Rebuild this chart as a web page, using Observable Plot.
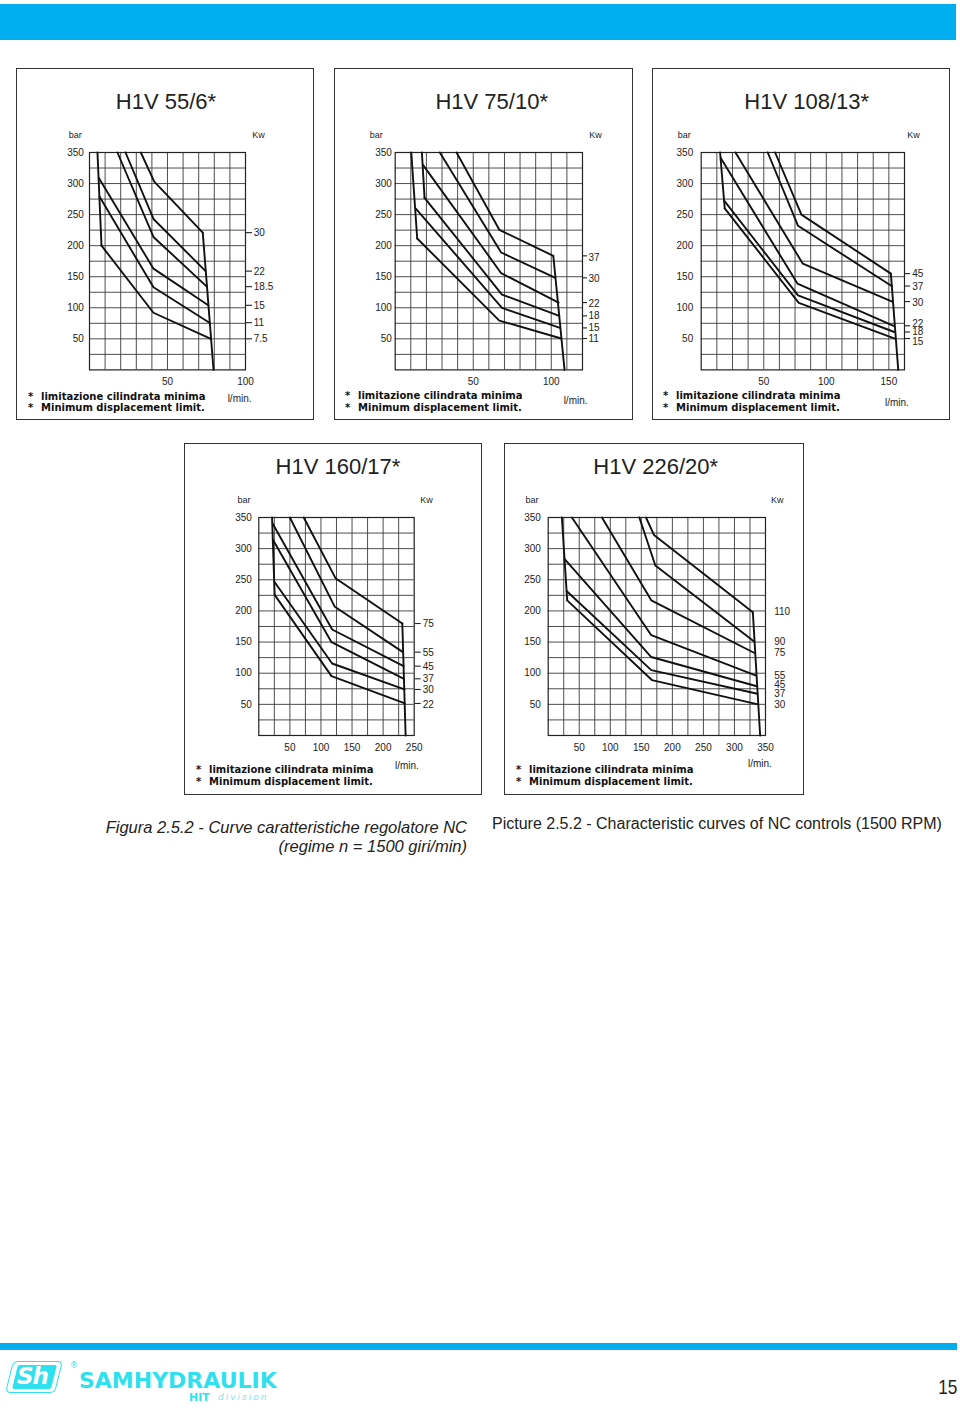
<!DOCTYPE html>
<html lang="it">
<head>
<meta charset="utf-8">
<title>H1V – Curve caratteristiche regolatore NC</title>
<script src="https://cdn.jsdelivr.net/npm/d3@7"></script>
<script src="https://cdn.jsdelivr.net/npm/@observablehq/plot@0.6"></script>
<style>
  html,body{margin:0;padding:0;background:#fff;}
  #page{position:relative;width:960px;height:1408px;overflow:hidden;background:#fff;font-family:"Liberation Sans",Arial,Helvetica,sans-serif;color:#222;}
  .abs{position:absolute;white-space:nowrap;}
  .box{position:absolute;border:1.6px solid #333;box-sizing:border-box;}
  .title{position:absolute;width:300px;text-align:center;font-size:22px;line-height:22px;color:#222;white-space:nowrap;}
  .legend{position:absolute;font-family:"DejaVu Sans",sans-serif;font-weight:bold;font-size:10px;line-height:12px;color:#111;white-space:nowrap;}
  .chart{position:absolute;}
</style>
</head>
<body>
<div id="page"></div>
<script>
// ================= DATA =================
const titles = ["H1V 55/6*", "H1V 75/10*", "H1V 108/13*", "H1V 160/17*", "H1V 226/20*"];

// flow axis (l/min)
const xMax = [100, 120, 162.5, 250, 350];
const xGridStep = [10, 10, 12.5, 25, 25];
const xTicks1 = [50, 100];
const xTicks2 = [50, 100];
const xTicks3 = [50, 100, 150];
const xTicks4 = [50, 100, 150, 200, 250];
const xTicks5 = [50, 100, 150, 200, 250, 300, 350];

// pressure axis (bar)
const yTicks = [50, 100, 150, 200, 250, 300, 350];
const yMax = 350;
const yGridStep = 25;

// power ratings (Kw), top curve to bottom curve
const kw1 = ["30", "22", "18.5", "15", "11", "7.5"];
const kw2 = ["37", "30", "22", "18", "15", "11"];
const kw3 = ["45", "37", "30", "22", "18", "15"];
const kw4 = ["75", "55", "45", "37", "30", "22"];
const kw5 = ["110", "90", "75", "55", "45", "37", "30"];

// bar level at which each Kw label is printed on the right
const kwAt1 = [220, 158, 133, 103, 76, 50];
const kwAt2 = [180, 146, 107, 87, 68, 50];
const kwAt3 = [154, 134, 108, 75, 61, 45];
const kwAt4 = [179, 133, 110, 91, 73, 50];
const kwAt5 = [198, 151, 132, 96, 81, 67, 50];

// constant-power curves: vertices [l/min, bar], same order as the Kw lists
const curves1 = [
  [[32.9, 350], [41.5, 303], [72.6, 221]],
  [[23.1, 350], [41, 243], [74.4, 159]],
  [[17.9, 350], [41, 214], [75.2, 134]],
  [[6.0, 309], [41, 163], [76.1, 104]],
  [[6.4, 279], [41, 133], [76.9, 76]],
  [[7.7, 200], [41, 92], [77.8, 50]]
];
const curves2 = [
  [[39.3, 350], [66.7, 225.5], [101.3, 183.6]],
  [[28.6, 350], [67.9, 189], [102.6, 148.2]],
  [[17.9, 329.6], [67.9, 155.7], [104.7, 108.4]],
  [[18.8, 277], [68.4, 121.3], [105.1, 87]],
  [[13.2, 259.8], [68.4, 99.8], [105.6, 67.6]],
  [[14.1, 211.5], [66.7, 79.4], [106.4, 50.5]]
];
const curves3 = [
  [[59.1, 350], [80.1, 250], [151.6, 155]],
  [[53.2, 350], [77.4, 232], [152.2, 135]],
  [[27.4, 350], [81.2, 171], [152.7, 110]],
  [[15.6, 341], [76.9, 139], [153.8, 71]],
  [[18.5, 272], [77.4, 120], [154.3, 61]],
  [[18.8, 260], [78, 108], [154.8, 50.5]]
];
const curves4 = [
  [[72.3, 350], [123.4, 252.6], [230.9, 179.8]],
  [[50, 350], [122.3, 206.6], [231.9, 133.8]],
  [[22.2, 340.4], [118, 170.2], [233, 111.3]],
  [[22.5, 314.7], [117, 149.8], [233.5, 91]],
  [[24.8, 247.2], [118, 115.6], [234.3, 73.9]],
  [[25.5, 225.8], [117, 95.3], [235.1, 51.4]]
];
const curves5 = [
  [[157.5, 350], [170.4, 322], [329.6, 198]],
  [[146.8, 350], [172.6, 273], [331.7, 151]],
  [[86.6, 350], [166, 217], [333, 132]],
  [[38.2, 350], [166, 161], [335, 96]],
  [[26.5, 283], [166, 126], [336, 79]],
  [[29.6, 232], [166, 105], [337, 67]],
  [[30.6, 217], [167, 89], [338, 50]]
];

// limit lines (minimum-displacement side and maximum-flow side)
const limits1 = [[[5.1, 350], [7.7, 200]], [[72.6, 221], [79.5, 0]]];
const limits2 = [[[10.3, 350], [14.1, 211.5]], [[17.1, 350], [18.8, 277]], [[101.3, 183.6], [108.5, 0]]];
const limits3 = [[[15.1, 350], [18.8, 260]], [[151.6, 155], [157.5, 0]]];
const limits4 = [[[21.3, 350], [25.5, 225.8]], [[230.9, 179.8], [236.2, 0]]];
const limits5 = [[[22, 350], [30.6, 217]], [[329.6, 198], [341.4, 0]]];

const legendIt = "limitazione cilindrata minima";
const legendEn = "Minimum displacement limit.";
const captionIt1 = "Figura 2.5.2 - Curve caratteristiche regolatore NC";
const captionIt2 = "(regime n = 1500 giri/min)";
const captionEn = "Picture 2.5.2 - Characteristic curves of NC controls (1500 RPM)";
const pageNumber = "15";

// ================= LAYOUT (page pixels) =================
const layout = [
  {box:[16,68,314,420], frame:[89,245,152.3,369.7], titleX:166, titleBase:110, barLeft:68.3, kwRight:264.3, lminBase:402, yPad:5.7, kwTick:6, kwPad:2.3, bulletX:30, textX:41, legendMid:[396.7,408.3], lminRight:251},
  {box:[334,68,633,420], frame:[394.7,582,152.3,369.7], titleX:491.7, titleBase:110, barLeft:369.3, kwRight:601.3, lminBase:403.7, yPad:3.3, kwTick:4, kwPad:2, bulletX:347, textX:358, legendMid:[396,407.7], lminRight:587},
  {box:[652,68,950,420], frame:[700.7,904,152.3,369.7], titleX:806.7, titleBase:110, barLeft:677.3, kwRight:919.3, lminBase:405.4, yPad:8, kwTick:5, kwPad:2.7, bulletX:665, textX:676, legendMid:[396,407.7], lminRight:908.3},
  {box:[184,443,482,795], frame:[258.3,413.7,516.7,734.7], titleX:338, titleBase:475, barLeft:237, kwRight:432.3, lminBase:768.7, yPad:7, kwTick:6, kwPad:2.6, bulletX:198, textX:209, legendMid:[770,782], lminRight:418.3},
  {box:[504,443,804,795], frame:[547.7,765,516.7,734.7], titleX:655.7, titleBase:475, barLeft:525, kwRight:783, lminBase:766.4, yPad:7.4, kwTick:0, kwPad:8.7, bulletX:518, textX:529, legendMid:[770,782], lminRight:771.3}
];

const xTicks = [xTicks1, xTicks2, xTicks3, xTicks4, xTicks5];
const kws = [kw1, kw2, kw3, kw4, kw5];
const kwAts = [kwAt1, kwAt2, kwAt3, kwAt4, kwAt5];
const curves = [curves1, curves2, curves3, curves4, curves5];
const limits = [limits1, limits2, limits3, limits4, limits5];

const page = document.getElementById("page");
function add(html) {
  const t = document.createElement("template");
  t.innerHTML = html.trim();
  const el = t.content.firstChild;
  page.appendChild(el);
  return el;
}

// top banner & bottom rule
add(`<div class="abs" style="left:0;top:4px;width:956px;height:36px;background:#00AEEF"></div>`);
add(`<div class="abs" style="left:0;top:1343px;width:957px;height:7px;background:#00AEEF"></div>`);

function makePanel(i) {
  const L = layout[i];
  const [bx0, by0, bx1, by1] = L.box;
  const [fx0, fx1, fy0, fy1] = L.frame;

  add(`<div class="box" style="left:${bx0}px;top:${by0}px;width:${bx1 - bx0}px;height:${by1 - by0}px"></div>`);
  add(`<div class="title" style="left:${L.titleX - 150}px;top:${L.titleBase - 18.6}px">${titles[i]}</div>`);

  const svgLeft = bx0 + 2;
  const svgTop = fy0 - 24;
  const svgRight = L.lminRight + 3;
  const svgBottom = fy1 + 40;

  const rows = [];
  curves[i].forEach((c, j) => c.forEach(([x, y]) => rows.push({id: "c" + j, x, y})));
  limits[i].forEach((c, j) => c.forEach(([x, y]) => rows.push({id: "l" + j, x, y})));
  const kwEnds = curves[i].map(c => c[c.length - 1][1]);
  const kwMap = new Map(kwAts[i].map((v, j) => [v, kws[i][j]]));
  const step = xGridStep[i];
  const gx = d3.range(step, xMax[i] - 1e-6, step);
  const gy = d3.range(yGridStep, yMax - 1e-6, yGridStep);

  const marks = [
    Plot.gridX({ticks: gx, stroke: "#3a3a3a", strokeOpacity: 1, strokeWidth: 0.9}),
    Plot.gridY({ticks: gy, stroke: "#3a3a3a", strokeOpacity: 1, strokeWidth: 0.9}),
    Plot.frame({stroke: "#222", strokeWidth: 1.2}),
    Plot.line(rows, {x: "x", y: "y", z: "id", stroke: "#111", strokeWidth: 1.9, strokeLinejoin: "miter"}),
    Plot.axisY({anchor: "left", ticks: yTicks, tickSize: 0, tickPadding: L.yPad, label: null}),
    Plot.axisY({anchor: "left", ticks: [], tickSize: 0, label: "bar", labelAnchor: "top", labelArrow: "none", labelOffset: fx0 - L.barLeft, fontSize: 9}),
    Plot.axisY({anchor: "right", ticks: kwAts[i], tickSize: 0, tickPadding: L.kwTick + L.kwPad, tickFormat: d => kwMap.get(d), label: null}),
    Plot.axisY({anchor: "right", ticks: [], tickSize: 0, label: "Kw", labelAnchor: "top", labelArrow: "none", labelOffset: L.kwRight - fx1, fontSize: 9}),
    Plot.axisX({anchor: "bottom", ticks: xTicks[i], tickSize: 0, tickPadding: 8, label: null}),
    Plot.axisX({anchor: "bottom", ticks: [], tickSize: 0, label: "l/min.", labelAnchor: "right", labelArrow: "none", labelOffset: L.lminBase - fy1})
  ];
  if (L.kwTick > 0) {
    marks.push(Plot.axisY({anchor: "right", ticks: kwEnds, tickSize: L.kwTick, fill: "none", label: null, strokeWidth: 1.1}));
  }

  const chart = Plot.plot({
    width: svgRight - svgLeft,
    height: svgBottom - svgTop,
    marginLeft: fx0 - svgLeft,
    marginRight: svgRight - fx1,
    marginTop: fy0 - svgTop,
    marginBottom: svgBottom - fy1,
    style: {background: "transparent", overflow: "visible", fontFamily: "'Liberation Sans', Arial, sans-serif", fontSize: "10px", color: "#222"},
    x: {domain: [0, xMax[i]]},
    y: {domain: [0, yMax]},
    marks
  });
  chart.classList.add("chart");
  chart.style.left = svgLeft + "px";
  chart.style.top = svgTop + "px";
  chart.style.position = "absolute";
  page.appendChild(chart);

  // legend (footnote for the * in the title)
  [legendIt, legendEn].forEach((t, k) => {
    const top = L.legendMid[k] + 3.6 - 9.46;
    add(`<div class="legend" style="left:${L.bulletX - 2}px;top:${top}px">*</div>`);
    add(`<div class="legend" style="left:${L.textX}px;top:${top}px">${t}</div>`);
  });
}

for (let i = 0; i < 5; i++) makePanel(i);

// captions
add(`<div class="abs" style="left:60px;top:818.2px;width:407px;text-align:right;font-size:16.5px;line-height:19px;font-style:italic;color:#222">${captionIt1}<br>${captionIt2}</div>`);
add(`<div class="abs" style="left:492px;top:813.7px;font-size:16px;line-height:19px;color:#222">${captionEn}</div>`);

// footer logo
const cyan = "#2FE0EE";
add(`<div class="abs" style="left:9px;top:1361px;width:50px;height:32px;border:1.5px solid ${cyan};border-radius:5px;transform:skewX(-14deg);box-sizing:border-box"></div>`);
add(`<div class="abs" style="left:15px;top:1365px;width:39px;height:24px;background:${cyan};transform:skewX(-14deg);border-radius:2px"></div>`);
add(`<div class="abs" style="left:17px;top:1362px;font-family:'DejaVu Sans',sans-serif;font-weight:bold;font-style:italic;font-size:23px;line-height:28px;color:#fff;letter-spacing:-1px">Sh</div>`);
add(`<div class="abs" style="left:70px;top:1362px;font-family:'DejaVu Sans',sans-serif;font-size:8px;line-height:8px;color:${cyan}">®</div>`);
add(`<div class="abs" style="left:79px;top:1370.4px;font-family:'DejaVu Sans',sans-serif;font-weight:bold;font-size:22px;line-height:22px;color:${cyan}">SAMHYDRAULIK</div>`);
add(`<div class="abs" style="left:189px;top:1391.7px;font-family:'DejaVu Sans',sans-serif;font-weight:bold;font-size:11px;line-height:11px;color:${cyan}">HIT</div>`);
add(`<div class="abs" style="left:218px;top:1393px;font-family:'DejaVu Sans',sans-serif;font-style:italic;font-size:9px;line-height:9px;letter-spacing:2px;color:#7de6ee">division</div>`);
add(`<div class="abs" style="right:3px;top:1375px;font-family:'Liberation Sans',Arial,sans-serif;font-size:21px;line-height:24px;color:#222;transform:scaleX(0.82);transform-origin:right center">${pageNumber}</div>`);
</script>
</body>
</html>
